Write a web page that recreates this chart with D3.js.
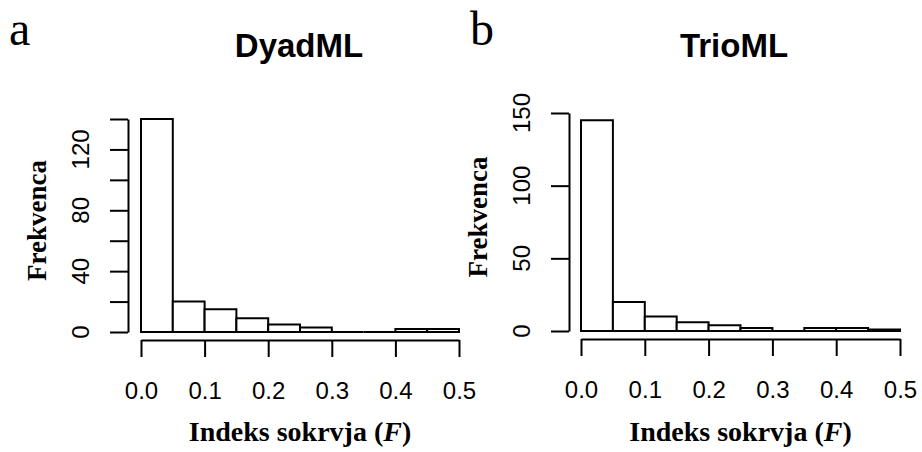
<!DOCTYPE html>
<html>
<head>
<meta charset="utf-8">
<script src="https://cdn.jsdelivr.net/npm/d3@7"></script>
<style>
  html, body { margin: 0; padding: 0; background: #fff; }
  svg { display: block; }
</style>
</head>
<body>
<svg id="chart" width="922" height="452"></svg>
<script>
// ---- data ----
const binEdges = [0, 0.05, 0.10, 0.15, 0.20, 0.25, 0.30, 0.35, 0.40, 0.45, 0.50];
const dyadCounts = [140, 20, 15, 9, 5, 3, 0, 0, 2, 2];
const trioCounts = [145, 20, 10, 6, 4, 2, 0, 2, 2, 1];
const xTicks = [0, 0.1, 0.2, 0.3, 0.4, 0.5];
const dyadYTicks = [0, 20, 40, 60, 80, 100, 120, 140];
const dyadYLabels = [0, 40, 80, 120];
const trioYTicks = [0, 50, 100, 150];
const trioYLabels = [0, 50, 100, 150];
const panelTitles = ["DyadML", "TrioML"];
const panelLetters = ["a", "b"];
const xTitle = "Indeks sokrvja (";
const yTitle = "Frekvenca";

const svg = d3.select("#chart");
const SANS = "Liberation Sans, Arial, sans-serif";
const SERIF = "Liberation Serif, Times New Roman, serif";

const panels = [
  { counts: dyadCounts, yTicks: dyadYTicks, yLabels: dyadYLabels, yMax: 140,
    x0: 141, x1: 459, yBottom: 332, yTop: 119, axisX: 128, axisY: 340,
    title: panelTitles[0], letter: panelLetters[0], letterX: 9, titleX: 299 },
  { counts: trioCounts, yTicks: trioYTicks, yLabels: trioYLabels, yMax: 150,
    x0: 581, x1: 900, yBottom: 331, yTop: 113, axisX: 569, axisY: 339,
    title: panelTitles[1], letter: panelLetters[1], letterX: 470, titleX: 734 }
];

panels.forEach(p => {
  const g = svg.append("g");
  const x = d3.scaleLinear().domain([0, 0.5]).range([p.x0, p.x1]);
  const y = d3.scaleLinear().domain([0, p.yMax]).range([p.yBottom, p.yTop]);

  const bins = p.counts.map((c, i) => ({ x0: binEdges[i], x1: binEdges[i + 1], c }));

  // bars as closed paths so that empty bins still show as a line on the baseline
  g.selectAll("path.bar").data(bins).enter().append("path")
    .attr("class", "bar")
    .attr("d", d => {
      const a = x(d.x0), b = x(d.x1), t = y(d.c), z = y(0);
      return `M${a},${z}L${a},${t}L${b},${t}L${b},${z}Z`;
    })
    .attr("fill", "#fff")
    .attr("stroke", "#000")
    .attr("stroke-width", 2)
    .attr("stroke-linejoin", "miter");

  // x axis
  const xa = g.append("g")
    .attr("transform", `translate(0,${p.axisY})`)
    .call(d3.axisBottom(x).tickValues(xTicks).tickSize(17).tickSizeOuter(0).tickPadding(25)
      .tickFormat(d3.format(".1f")));
  xa.select(".domain").attr("stroke-width", 2);
  xa.selectAll(".tick line").attr("stroke-width", 2);
  xa.selectAll(".tick text").attr("font-family", SANS).attr("font-size", 24).attr("fill", "#000");

  // y axis
  const ya = g.append("g")
    .attr("transform", `translate(${p.axisX},0)`)
    .call(d3.axisLeft(y).tickValues(p.yTicks).tickSize(18).tickSizeOuter(0).tickFormat(""));
  ya.select(".domain").attr("stroke-width", 2);
  ya.selectAll(".tick line").attr("stroke-width", 2);

  g.selectAll("text.ylab").data(p.yLabels).enter().append("text")
    .attr("class", "ylab")
    .attr("transform", d => `translate(${p.axisX - 39},${y(d)}) rotate(-90)`)
    .attr("text-anchor", "middle")
    .attr("font-family", SANS).attr("font-size", 24).attr("fill", "#000")
    .text(d => d);

  // titles
  g.append("text")
    .attr("x", p.titleX).attr("y", 57)
    .attr("text-anchor", "middle")
    .attr("font-family", SANS).attr("font-weight", "bold").attr("font-size", 33)
    .text(p.title);

  g.append("text")
    .attr("x", p.letterX).attr("y", 45)
    .attr("font-family", SERIF).attr("font-size", 48)
    .text(p.letter);

  const xt = g.append("text")
    .attr("x", (p.x0 + p.x1) / 2).attr("y", 441)
    .attr("text-anchor", "middle")
    .attr("font-family", SERIF).attr("font-weight", "bold").attr("font-size", 28);
  xt.append("tspan").text(xTitle);
  xt.append("tspan").attr("font-style", "italic").text("F");
  xt.append("tspan").text(")");

  g.append("text")
    .attr("transform", `translate(${p.axisX - 82},${(p.yTop + p.yBottom) / 2 - 5}) rotate(-90)`)
    .attr("text-anchor", "middle")
    .attr("font-family", SERIF).attr("font-weight", "bold").attr("font-size", 27)
    .text(yTitle);
});
</script>
</body>
</html>
